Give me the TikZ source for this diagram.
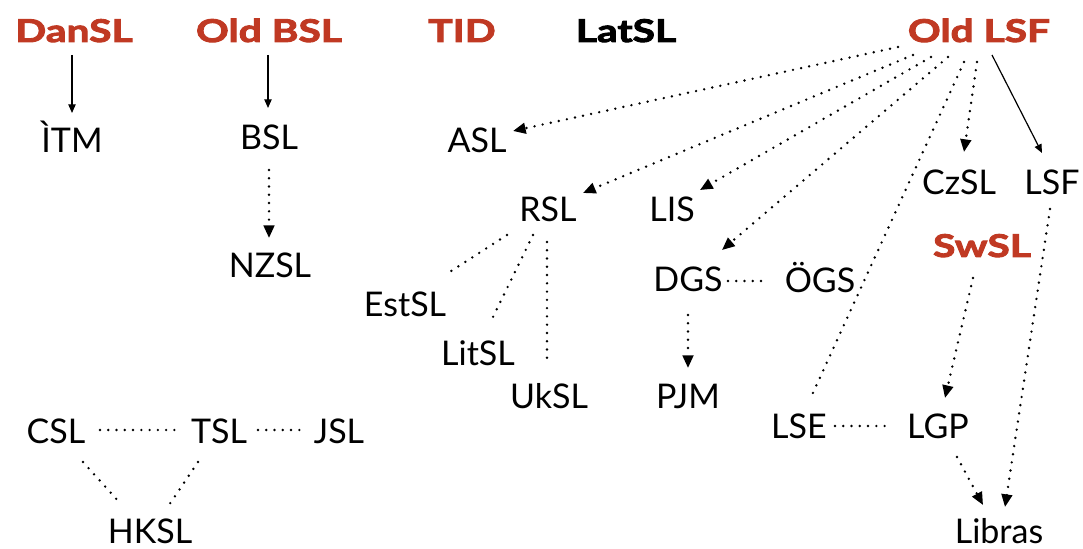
\documentclass[tikz,border=0pt]{standalone}
\usepackage{fontspec}
\setmainfont{Lato}
\newfontfamily\titlefont[FakeStretch=1.3]{Lato}
\usetikzlibrary{arrows.meta}
\definecolor{titlered}{RGB}{192,57,35}
\begin{document}
\begin{tikzpicture}[x=0.75pt,y=-0.75pt,
  lang/.style={font=\fontsize{25.5}{28}\selectfont, inner sep=0pt, anchor=base},
  root/.style={font=\fontsize{23.5}{26}\titlefont\bfseries\addfontfeatures{FakeBold=3}, text=titlered, inner sep=0pt, anchor=base},
  blackroot/.style={root, text=black},
  dots/.style={line width=2pt, line cap=round, dash pattern=on 0pt off 6.2pt},
  solidtip/.style={line width=0.9pt, -{Triangle[length=6.5pt,width=5.5pt]}},
  dottip/.style={dots, -{Triangle[length=9.5pt,width=8pt]}}
]
\useasboundingbox (0,0) rectangle (1083,549);

% roots
\node[root] (dansl) at (74,42) {DanSL};
\node[root] (oldbsl) at (269,42) {Old BSL};
\node[root] (tid) at (462,42) {TID};
\node[blackroot] (latsl) at (626,42) {LatSL};
\node[root] (oldlsf) at (979,42) {Old LSF};
\node[root] (swsl) at (982,257) {SwSL};

% languages
\node[lang] (itm) at (72,153) {ÌTM};
\node[lang] (bsl) at (269,150) {BSL};
\node[lang] (nzsl) at (270,278) {NZSL};
\node[lang] (asl) at (477,153) {ASL};
\node[lang] (rsl) at (548,222) {RSL};
\node[lang] (lis) at (672,222) {LIS};
\node[lang] (czsl) at (959,195) {CzSL};
\node[lang] (lsf) at (1052,195) {LSF};
\node[lang] (dgs) at (688,292) {DGS};
\node[lang] (ogs) at (820,293) {ÖGS};
\node[lang] (estsl) at (405,317) {EstSL};
\node[lang] (litsl) at (478,365) {LitSL};
\node[lang] (uksl) at (549,408) {UkSL};
\node[lang] (pjm) at (688,408) {PJM};
\node[lang] (lse) at (799,438) {LSE};
\node[lang] (lgp) at (938,438) {LGP};
\node[lang] (libras) at (999,543) {Libras};
\node[lang] (csl) at (56,443) {CSL};
\node[lang] (tsl) at (219,443) {TSL};
\node[lang] (jsl) at (339,443) {JSL};
\node[lang] (hksl) at (150,543) {HKSL};

% connectors
\draw[solidtip] ([shift={(-2,13)}]dansl.base) -- ([shift={(0,-40)}]itm.base);
\draw[solidtip] ([shift={(-1,13)}]oldbsl.base) -- ([shift={(-1,-42)}]bsl.base);
\draw[dottip] ([shift={(0,20)}]bsl.base) -- ([shift={(-1,-40)}]nzsl.base);

\draw[dottip] ([shift={(-81,5)}]oldlsf.base) -- ([shift={(36,-22)}]asl.base);
\draw[dottip] ([shift={(-66,13)}]oldlsf.base) -- ([shift={(35,-29)}]rsl.base);
\draw[dottip] ([shift={(-48,15)}]oldlsf.base) -- ([shift={(28,-32)}]lis.base);
\draw[dottip] ([shift={(-31,15)}]oldlsf.base) -- ([shift={(34,-42)}]dgs.base);
\draw[dots] ([shift={(-15,20)}]oldlsf.base) -- ([shift={(13,-43)}]lse.base);
\draw[dottip] ([shift={(-2,20)}]oldlsf.base) -- ([shift={(5,-43)}]czsl.base);
\draw[solidtip] ([shift={(13,13)}]oldlsf.base) -- ([shift={(-10,-42)}]lsf.base);

\draw[dottip] ([shift={(-2,14)}]lsf.base) -- ([shift={(6,-36)}]libras.base);
\draw[dottip] ([shift={(-9,21)}]swsl.base) -- ([shift={(7,-40)}]lgp.base);
\draw[dottip] ([shift={(19,19)}]lgp.base) -- ([shift={(-16,-38)}]libras.base);
\draw[dots] ([shift={(36,-12)}]lse.base) -- ([shift={(-46,-12)}]lgp.base);

\draw[dots] ([shift={(40,-11)}]dgs.base) -- ([shift={(-55,-12)}]ogs.base);
\draw[dottip] ([shift={(0,23)}]dgs.base) -- ([shift={(0,-40)}]pjm.base);

\draw[dots] ([shift={(-41,13)}]rsl.base) -- ([shift={(40,-42)}]estsl.base);
\draw[dots] ([shift={(-15,13)}]rsl.base) -- ([shift={(15,-48)}]litsl.base);
\draw[dots] ([shift={(-1,20)}]rsl.base) -- ([shift={(-2,-48)}]uksl.base);

\draw[dots] ([shift={(44,-13)}]csl.base) -- ([shift={(-37,-13)}]tsl.base);
\draw[dots] ([shift={(39,-13)}]tsl.base) -- ([shift={(-32,-13)}]jsl.base);
\draw[dots] ([shift={(27,19)}]csl.base) -- ([shift={(-30,-40)}]hksl.base);
\draw[dots] ([shift={(-21,19)}]tsl.base) -- ([shift={(17,-35)}]hksl.base);
\end{tikzpicture}
\end{document}
